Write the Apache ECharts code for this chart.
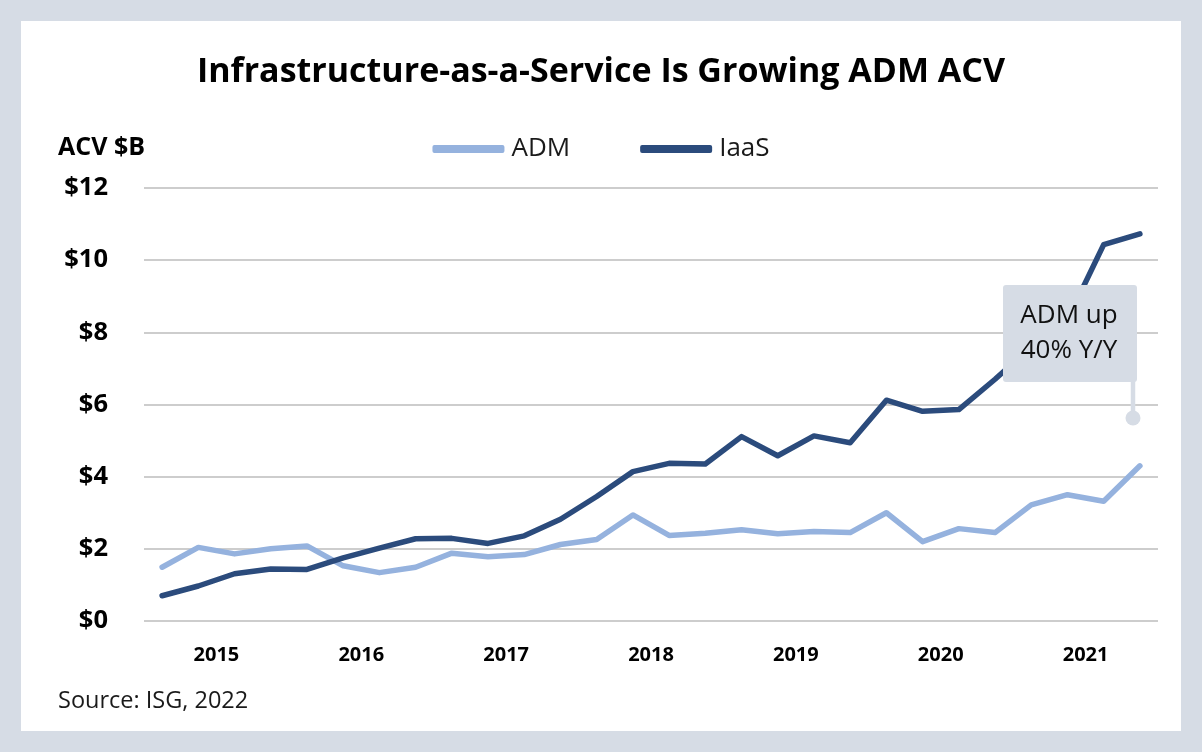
<!DOCTYPE html>
<html>
<head>
<meta charset="utf-8">
<script src="https://cdn.jsdelivr.net/npm/echarts@6/dist/echarts.min.js"></script>
<style>
  html, body { margin: 0; padding: 0; }
  body { width: 1202px; height: 752px; background: #d6dce5; position: relative; overflow: hidden; }
  #panel { position: absolute; left: 21px; top: 21px; width: 1160px; height: 710px; background: #ffffff; }
  #chart { position: absolute; left: 0; top: 0; width: 1202px; height: 752px; }
</style>
</head>
<body>
<div id="panel"></div>
<div id="chart"></div>
<script>
const quarters = [
  '2015 Q1','2015 Q2','2015 Q3','2015 Q4',
  '2016 Q1','2016 Q2','2016 Q3','2016 Q4',
  '2017 Q1','2017 Q2','2017 Q3','2017 Q4',
  '2018 Q1','2018 Q2','2018 Q3','2018 Q4',
  '2019 Q1','2019 Q2','2019 Q3','2019 Q4',
  '2020 Q1','2020 Q2','2020 Q3','2020 Q4',
  '2021 Q1','2021 Q2','2021 Q3','2021 Q4'
];
const years = ['2015','2016','2017','2018','2019','2020','2021'];
const admValues = [1.49, 2.04, 1.86, 2.00, 2.08, 1.53, 1.34, 1.49, 1.88, 1.78, 1.84, 2.12, 2.26, 2.94,
  2.37, 2.43, 2.53, 2.42, 2.48, 2.45, 3.00, 2.20, 2.56, 2.45, 3.22, 3.50, 3.32, 4.30];
const iaasValues = [0.70, 0.97, 1.31, 1.44, 1.43, 1.75, 2.02, 2.28, 2.29, 2.15, 2.36, 2.82, 3.45, 4.14,
  4.37, 4.35, 5.11, 4.58, 5.13, 4.94, 6.12, 5.81, 5.86, 6.70, 7.60, 8.35, 10.43, 10.73];
const yTicks = [0, 2, 4, 6, 8, 10, 12];

const FONT = '"Open Sans", "Noto Sans", sans-serif';
const ADM_COLOR = '#95b2de';
const IAAS_COLOR = '#2b4b7c';
const BOX_COLOR = '#d6dce5';

const chart = echarts.init(document.getElementById('chart'), null, { renderer: 'canvas' });
chart.setOption({
  backgroundColor: 'transparent',
  animation: false,
  textStyle: { fontFamily: FONT },
  title: [
    {
      text: 'Infrastructure-as-a-Service Is Growing ADM ACV',
      left: 'center', top: 50,
      textStyle: { fontFamily: FONT, fontSize: 34, fontWeight: 'bold', color: '#000' }
    },
    {
      text: 'ACV $B',
      left: 53, top: 130,
      textStyle: { fontFamily: FONT, fontSize: 25, fontWeight: 'bold', color: '#000' }
    },
    {
      text: 'Source: ISG, 2022',
      left: 53, top: 684,
      textStyle: { fontFamily: FONT, fontSize: 23.5, fontWeight: 'normal', color: '#1a1a1a' }
    }
  ],
  legend: {
    left: 'center', top: 131,
    itemWidth: 72, itemHeight: 8, itemGap: 70,
    icon: 'roundRect',
    textStyle: { fontFamily: FONT, fontSize: 26, color: '#1a1a1a', padding: [0, 0, 0, 2] },
    data: ['ADM', 'IaaS']
  },
  grid: { left: 144, right: 44, top: 188, bottom: 131 },
  xAxis: [
    {
      type: 'category', data: quarters, boundaryGap: true,
      axisLine: { show: false }, axisTick: { show: false }, axisLabel: { show: false },
      splitLine: { show: false }
    },
    {
      type: 'category', data: years, boundaryGap: true, position: 'bottom',
      axisLine: { show: false }, axisTick: { show: false },
      axisLabel: { margin: 24, fontFamily: FONT, fontSize: 20, fontWeight: 'bold', color: '#000' },
      splitLine: { show: false }
    }
  ],
  yAxis: {
    type: 'value', min: yTicks[0], max: yTicks[yTicks.length - 1], interval: 2,
    axisLine: { show: false }, axisTick: { show: false },
    axisLabel: {
      margin: 36, fontFamily: FONT, fontSize: 25.5, fontWeight: 'bold', color: '#000',
      formatter: v => '$' + v
    },
    splitLine: { lineStyle: { color: '#bdbdbd', width: 1.6 } }
  },
  series: [
    {
      name: 'ADM', type: 'line', xAxisIndex: 0, data: admValues,
      symbol: 'none', color: ADM_COLOR,
      lineStyle: { width: 5.5, color: ADM_COLOR, cap: 'round', join: 'round' }, z: 3
    },
    {
      name: 'IaaS', type: 'line', xAxisIndex: 0, data: iaasValues,
      symbol: 'none', color: IAAS_COLOR,
      lineStyle: { width: 5.5, color: IAAS_COLOR, cap: 'round', join: 'round' }, z: 4
    }
  ],
  graphic: [
    {
      type: 'group', z: 100,
      children: [
        { type: 'line', z: 100, shape: { x1: 1133, y1: 375, x2: 1133, y2: 418 },
          style: { stroke: BOX_COLOR, lineWidth: 4.5 } },
        { type: 'circle', z: 100, shape: { cx: 1133, cy: 418, r: 7.5 },
          style: { fill: BOX_COLOR } },
        { type: 'rect', z: 100, shape: { x: 1003, y: 285, width: 134, height: 97, r: 3 },
          style: { fill: BOX_COLOR } },
        { type: 'text', z: 101, x: 1069, y: 333,
          style: { text: 'ADM up\n40% Y/Y', fill: '#111', font: '26px ' + FONT,
                   textAlign: 'center', textVerticalAlign: 'middle', lineHeight: 35 } }
      ]
    }
  ]
});
</script>
</body>
</html>
